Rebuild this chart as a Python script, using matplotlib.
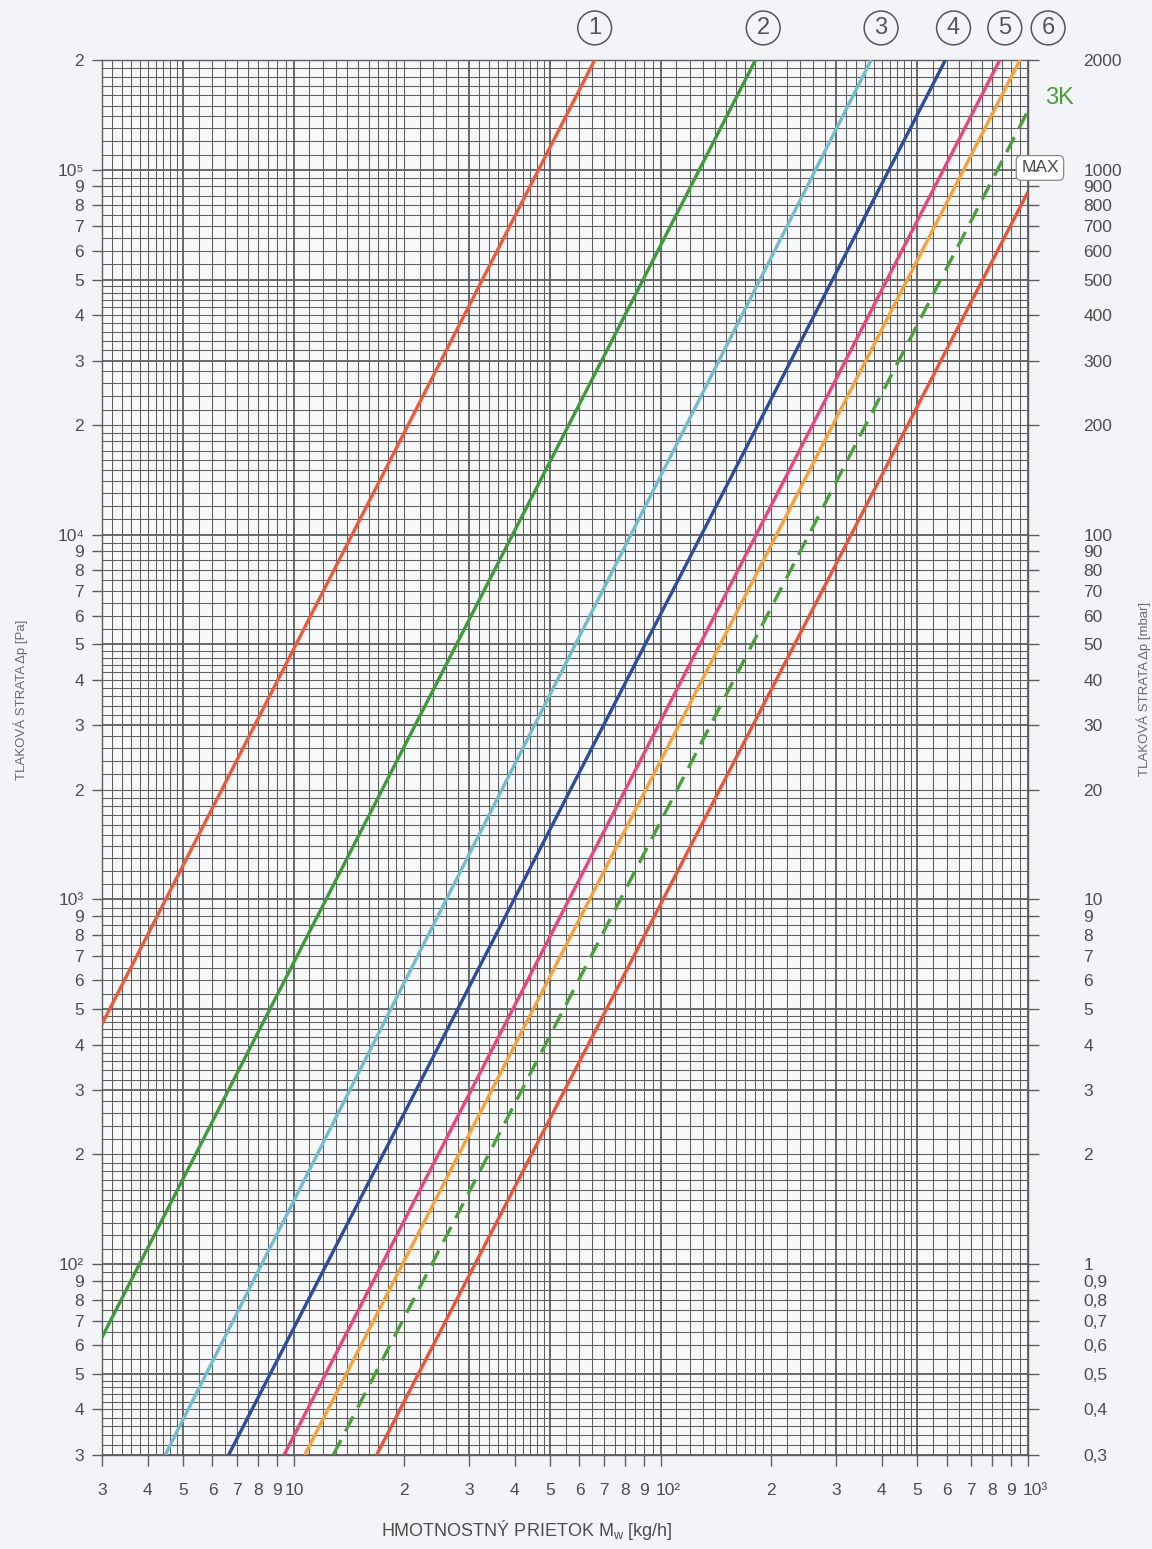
import numpy as np
import matplotlib.pyplot as plt
import matplotlib.transforms as mtrans

plt.rcParams['font.family'] = ['Liberation Sans', 'DejaVu Sans']

# each curve is a straight line on the log-log paper: read start and end points
curve_ids = ['1', '2', '3', '4', '5', '6', '3K', 'MAX']
flow_start = [3.0, 3.0, 4.46, 6.64, 9.4, 10.7, 12.8, 16.8]          # kg/h
dp_start = [455, 63, 30, 30, 30, 30, 30, 30]                        # Pa
flow_end = [66, 181, 374, 596, 838, 951, 1000, 1000]
dp_end = [200000, 200000, 200000, 200000, 200000, 200000, 145000, 87000]
curve_colors = ['#ec5a3c', '#3f9a3e', '#72bccb', '#2f4c9c', '#e9467c',
                '#f6a23c', '#4c9f3c', '#ea543a']

# circled numbers above the chart
circle_labels = ['1', '2', '3', '4', '5', '6']
circle_x = [66, 190, 398, 627, 865, 1135]

# tick labels
x_ticks = [3, 4, 5, 6, 7, 8, 9, 10, 20, 30, 40, 50, 60, 70, 80, 90, 100,
           200, 300, 400, 500, 600, 700, 800, 900, 1000]
x_labels = ['3', '4', '5', '6', '7', '8', '9', '10', '2', '3', '4', '5', '6',
            '7', '8', '9', '10²', '2', '3', '4', '5', '6', '7', '8', '9', '10³']
y_ticks = [30, 40, 50, 60, 70, 80, 90, 100, 200, 300, 400, 500, 600, 700, 800,
           900, 1000, 2000, 3000, 4000, 5000, 6000, 7000, 8000, 9000, 10000,
           20000, 30000, 40000, 50000, 60000, 70000, 80000, 90000, 100000, 200000]
y_labels = ['3', '4', '5', '6', '7', '8', '9', '10²', '2', '3', '4', '5', '6',
            '7', '8', '9', '10³', '2', '3', '4', '5', '6', '7', '8', '9', '10⁴',
            '2', '3', '4', '5', '6', '7', '8', '9', '10⁵', '2']
mbar_ticks = [0.3, 0.4, 0.5, 0.6, 0.7, 0.8, 0.9, 1, 2, 3, 4, 5, 6, 7, 8, 9, 10,
              20, 30, 40, 50, 60, 70, 80, 90, 100, 200, 300, 400, 500, 600,
              700, 800, 900, 1000, 2000]
mbar_labels = ['0,3', '0,4', '0,5', '0,6', '0,7', '0,8', '0,9', '1', '2', '3',
               '4', '5', '6', '7', '8', '9', '10', '20', '30', '40', '50', '60',
               '70', '80', '90', '100', '200', '300', '400', '500', '600', '700',
               '800', '900', '1000', '2000']

txt = '#4d4d4d'
grid_c = '#5e5e5e'
bg = '#f3f4f7'


def paper_lines(lo, hi):
    mant = np.round(np.r_[np.arange(1, 2, 0.1), np.arange(2, 5, 0.2),
                          np.arange(5, 10, 0.5)], 2)
    vals, heavy = [], []
    for e in range(int(np.floor(np.log10(lo))), int(np.ceil(np.log10(hi))) + 1):
        for m in mant:
            v = m * 10.0 ** e
            if lo * 0.999 <= v <= hi * 1.001:
                vals.append(v)
                heavy.append(m in (1.0, 3.0, 5.0))
    return np.array(vals), np.array(heavy)


fig = plt.figure(figsize=(11.52, 15.49), dpi=100, facecolor=bg)
ax = fig.add_axes([0.0885, 0.0607, 0.8038, 0.9006])
ax.set_facecolor('#f7f8f9')
ax.set_xscale('log')
ax.set_yscale('log')
ax.set_xlim(3, 1000)
ax.set_ylim(30, 200000)

xs, xh = paper_lines(3, 1000)
ys, yh = paper_lines(30, 200000)
ax.vlines(xs, 30, 200000, colors=grid_c, linewidth=np.where(xh, 1.3, 0.75), zorder=1)
ax.hlines(ys, 3, 1000, colors=grid_c, linewidth=np.where(yh, 1.3, 0.75), zorder=1)

for i, cid in enumerate(curve_ids):
    ls = (0, (5, 3)) if cid == '3K' else '-'
    ax.plot([flow_start[i], flow_end[i]], [dp_start[i], dp_end[i]],
            color=curve_colors[i], lw=2.4, ls=ls, zorder=3, solid_capstyle='butt')

for lab, xv in zip(circle_labels, circle_x):
    ax.text(xv, 1.0 + 32 / 1395, lab, transform=ax.get_xaxis_transform(),
            ha='center', va='center', fontsize=17, color='#555555', clip_on=False,
            bbox=dict(boxstyle='circle,pad=0.25', fc='none', ec='#555555', lw=1.1))

ax.text(1.018, 0.973, '3K', transform=ax.transAxes, fontsize=17,
        color='#4c9f3c', ha='left', va='center', clip_on=False)
ax.text(1.013, 0.9226, 'MAX', transform=ax.transAxes, fontsize=12.5, color=txt,
        ha='center', va='center', zorder=5, clip_on=False,
        bbox=dict(boxstyle='round,pad=0.28', fc='white', ec='#8a8a8a', lw=0.9))

for sp in ax.spines.values():
    sp.set_color(grid_c)
    sp.set_linewidth(1.0)

ax.xaxis.set_minor_locator(plt.NullLocator())
ax.yaxis.set_minor_locator(plt.NullLocator())
ax.set_xticks(x_ticks)
ax.set_xticklabels(x_labels)
ax.set_yticks(y_ticks)
ax.set_yticklabels(y_labels)
ax.tick_params(axis='x', length=8, width=1, color=grid_c, labelcolor=txt,
               labelsize=12.5, pad=12)
ax.tick_params(axis='y', length=7, width=1, color=grid_c, labelcolor=txt,
               labelsize=12.5, pad=6)

# decade labels on the x axis sit a little to the right of their tick
shift = mtrans.ScaledTranslation(5 / 72, 0, fig.dpi_scale_trans)
for lab in ax.get_xticklabels():
    if lab.get_text() in ('10²', '10³'):
        lab.set_transform(lab.get_transform() + shift)

ax2 = ax.twinx()
ax2.set_yscale('log')
ax2.set_ylim(0.3, 2000)
ax2.yaxis.set_minor_locator(plt.NullLocator())
ax2.set_yticks(mbar_ticks)
ax2.set_yticklabels(mbar_labels)
ax2.tick_params(axis='y', length=8, width=1, color=grid_c, labelcolor=txt,
                labelsize=12.5, pad=32)
for sp in ax2.spines.values():
    sp.set_visible(False)

fig.text(0.4575, 0.0123, 'HMOTNOSTNÝ PRIETOK M$_\\mathregular{w}$ [kg/h]',
         fontsize=13, color=txt, ha='center', va='center')
fig.text(0.018, 0.548, 'TLAKOVÁ STRATA Δp [Pa]', rotation=90, fontsize=9.5,
         color='#6a6a6a', ha='center', va='center')
fig.text(0.993, 0.555, 'TLAKOVÁ STRATA Δp [mbar]', rotation=90, fontsize=9.5,
         color='#6a6a6a', ha='center', va='center')

fig.savefig('out.png', dpi=100, facecolor=bg)
